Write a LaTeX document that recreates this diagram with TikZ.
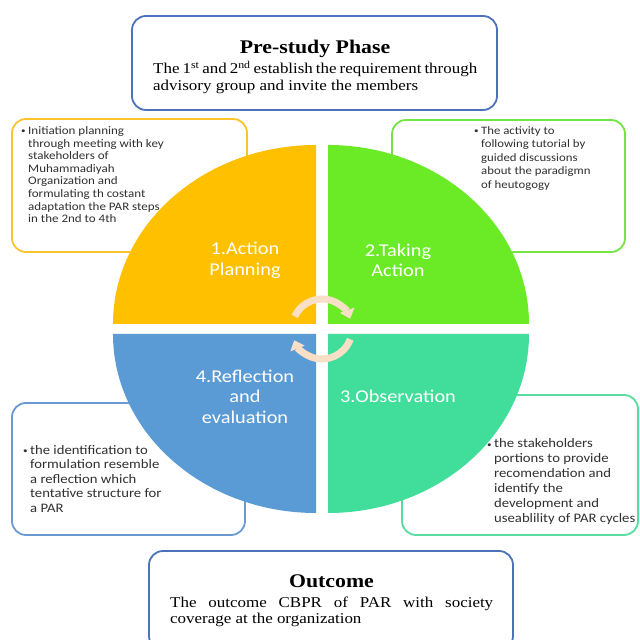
\documentclass[tikz,border=0pt]{standalone}
\usepackage{fontspec}
\setmainfont{Carlito}
\newfontfamily\calf[FakeStretch=1.13]{Carlito}
\newfontfamily\tmsf[FakeStretch=1.13]{Liberation Serif}
\usetikzlibrary{arrows.meta}
\definecolor{qorange}{HTML}{FFC000}
\definecolor{qgreen}{HTML}{6AEB26}
\definecolor{qteal}{HTML}{40DE9A}
\definecolor{qblue}{HTML}{5B9BD5}
\definecolor{bprest}{HTML}{4C72BC}
\definecolor{borange}{HTML}{FCC42C}
\definecolor{bgreen}{HTML}{74E444}
\definecolor{bblue}{HTML}{6A9AD0}
\definecolor{bteal}{HTML}{5ADBA0}
\definecolor{peach}{HTML}{F9DFC6}
\definecolor{btext}{HTML}{303030}
\newcommand{\bulpar}[3]{\makebox[#1][l]{\raisebox{0.5pt}{\fontsize{8}{8}\selectfont\textbullet}}\parbox[t]{#2}{\raggedright #3}}
\begin{document}
\begin{tikzpicture}[x=1pt,y=1pt,
  box/.style={draw, line width=1.8pt, rounded corners=14pt, fill=white, inner sep=0pt},
  txt/.style={inner sep=0pt, anchor=base west, text=btext},
  qlabel/.style={inner sep=0pt, align=center, text=white, font=\calf\fontsize{18}{20.5}\selectfont},
  cyc/.style={line width=7pt, color=peach, -{Triangle[width=15pt,length=9pt]}}
]
\useasboundingbox (0,0) rectangle (640,640);
\clip (0,0) rectangle (640,640);
\fill[white] (0,0) rectangle (640,640);

% boxes
\node[box, draw=bprest, minimum width=365pt, minimum height=94pt] (pre) at (314.5,577) {};
\node[box, draw=borange, minimum width=235pt, minimum height=133pt] (bo) at (129.5,454.5) {};
\node[box, draw=bgreen, minimum width=233pt, minimum height=132pt] (bg) at (508.5,454) {};
\node[box, draw=bblue, minimum width=233pt, minimum height=132pt] (bb) at (128.5,171) {};
\node[box, draw=bteal, minimum width=236pt, minimum height=140pt] (bt) at (520,175) {};
\node[box, draw=bprest, minimum width=364pt, minimum height=99pt] (out) at (331,39.5) {};

% header texts
\node[inner sep=0pt, anchor=base] (pretitle) at (315,586) {\tmsf\bfseries\fontsize{19.3}{22}\selectfont Pre-study Phase};
\node[txt, text=black] (pretext) at (153,566.7) {\tmsf\fontsize{15}{17}\selectfont\parbox[t]{324pt}{\makebox[324pt][s]{The 1\textsuperscript{st} and 2\textsuperscript{nd} establish the requirement through}\\advisory group and invite the members}};
\node[inner sep=0pt, anchor=base] (outtitle) at (331.5,52) {\tmsf\bfseries\fontsize{19.3}{22}\selectfont Outcome};
\node[txt, text=black] (outtext) at (170,32.5) {\tmsf\fontsize{15}{16}\selectfont\parbox[t]{323pt}{\makebox[323pt][s]{The outcome CBPR of PAR with society}\\coverage at the organization}};

% bullet texts
\node[txt] (to) at (21,505.5) {\calf\fontsize{11.5}{12.6}\selectfont\bulpar{7pt}{200pt}{Initiation planning\\through meeting with key\\stakeholders of\\Muhammadiyah\\Organization and\\formulating th costant\\adaptation the PAR steps\\in the 2nd to 4th}};
\node[txt] (tg) at (474,505.5) {\calf\fontsize{11.3}{13.5}\selectfont\bulpar{7pt}{150pt}{The activity to\\following tutorial by\\guided discussions\\about the paradigmn\\of heutogogy}};
\node[txt] (tb) at (23,185.5) {\calf\fontsize{13}{14.5}\selectfont\bulpar{7pt}{200pt}{the identification to\\formulation resemble\\a reflection which\\tentative structure for\\a PAR}};
\node[txt] (tt) at (487,192) {\calf\fontsize{13}{15}\selectfont\bulpar{7pt}{160pt}{the stakeholders\\portions to provide\\recomendation and\\identify the\\development and\\useablility of PAR cycles}};

% quadrants
\fill[qorange] (316,316) -- (113,316) arc[start angle=180, end angle=90, x radius=203pt, y radius=179pt] -- cycle;
\fill[qgreen] (328,316) -- (328,495) arc[start angle=90, end angle=0, x radius=201pt, y radius=179pt] -- cycle;
\fill[qteal] (328,306) -- (529,306) arc[start angle=0, end angle=-90, x radius=201pt, y radius=179pt] -- cycle;
\fill[qblue] (316,306) -- (316,127) arc[start angle=270, end angle=180, x radius=203pt, y radius=179pt] -- cycle;

% quadrant labels
\node[qlabel] (l1) at (245,379.7) {1.Action\\Planning};
\node[qlabel] (l2) at (398,379.7) {2.Taking\\Action};
\node[qlabel] (l3) at (398,243.3) {3.Observation};
\node[qlabel] (l4) at (245,243.3) {4.Reflection\\and\\evaluation};

% cycle arrows
\coordinate (cc) at (322,311);
\draw[cyc] ([shift={(155:30pt)}]cc) arc[start angle=155, end angle=20, radius=30pt];
\draw[cyc] ([shift={(-20:30pt)}]cc) arc[start angle=-20, end angle=-158, radius=30pt];
\end{tikzpicture}
\end{document}
